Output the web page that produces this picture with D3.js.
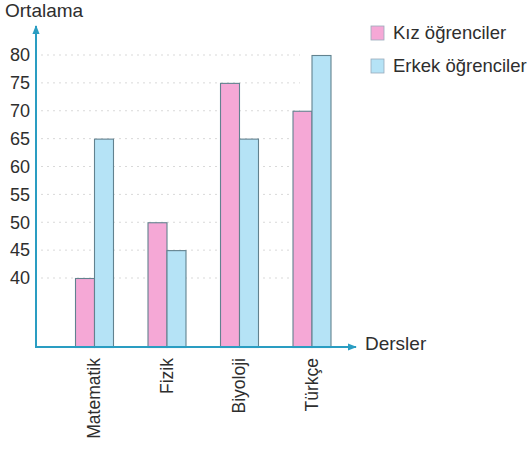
<!DOCTYPE html>
<html>
<head>
<meta charset="utf-8">
<script src="https://cdn.jsdelivr.net/npm/d3@7"></script>
<style>
  html, body { margin: 0; padding: 0; background: #fff; }
  svg { display: block; font-family: "Liberation Sans", Arial, sans-serif; }
</style>
</head>
<body>
<svg id="chart" width="532" height="459"></svg>
<script>
// Ders ortalamaları (kız / erkek öğrenciler)
const categories = ["Matematik", "Fizik", "Biyoloji", "Türkçe"];
const seriesNames = ["Kız öğrenciler", "Erkek öğrenciler"];
const kizValues = [40, 50, 75, 70];
const erkekValues = [65, 45, 65, 80];
const yTicks = [40, 45, 50, 55, 60, 65, 70, 75, 80];
const colors = ["#f5a8d6", "#b5e3f6"];

const svg = d3.select("#chart");
const axisColor = "#2a9dc2";
const textColor = "#2e2e2e";
const baseY = 347, left = 36;

// Eksen kırık: 40'ın altı sıkıştırılmış, çubuklar taban çizgisinden başlar
const y = d3.scaleLinear().domain([40, 80]).range([278, 55]);
const x = d3.scaleBand().domain(categories).range([57.75, 347.75])
  .paddingInner(0.476).paddingOuter(0.238);
const xSub = d3.scaleBand().domain(seriesNames).range([0, x.bandwidth()]);

const rows = categories.map((c, i) => ({ cat: c, vals: [kizValues[i], erkekValues[i]] }));

// Noktalı yatay kılavuz çizgileri
svg.append("g").selectAll("line").data(yTicks).join("line")
  .attr("x1", left + 5).attr("x2", 300)
  .attr("y1", d => y(d)).attr("y2", d => y(d))
  .attr("stroke", "#d9d9d9").attr("stroke-width", 1)
  .attr("stroke-dasharray", "2,4");

// Çubuklar
const groups = svg.append("g").selectAll("g").data(rows).join("g")
  .attr("transform", d => `translate(${x(d.cat)},0)`);
groups.selectAll("rect").data(d => d.vals.map((v, j) => ({ v, s: seriesNames[j], j })))
  .join("rect")
  .attr("x", d => xSub(d.s) + 0.5)
  .attr("width", xSub.bandwidth())
  .attr("y", d => y(d.v) + 0.5)
  .attr("height", d => baseY - y(d.v))
  .attr("fill", d => colors[d.j])
  .attr("stroke", "#62828f").attr("stroke-width", 1.1);

// Y ekseni etiketleri
const yAxis = d3.axisLeft(y).tickValues(yTicks).tickSize(0).tickPadding(6);
const gy = svg.append("g").attr("transform", `translate(${left},0)`).call(yAxis);
gy.select(".domain").remove();
gy.selectAll("text").attr("font-size", 18).attr("fill", textColor)
  .attr("font-family", "Liberation Sans, Arial, sans-serif");

// X ekseni etiketleri (dikey)
const xAxis = d3.axisBottom(x).tickSize(0).tickPadding(0);
const gx = svg.append("g").attr("transform", `translate(0,${baseY})`).call(xAxis);
gx.select(".domain").remove();
gx.selectAll("text")
  .attr("font-size", 17.5).attr("fill", textColor)
  .attr("font-family", "Liberation Sans, Arial, sans-serif")
  .attr("text-anchor", "end")
  .attr("dy", "0.35em")
  .attr("transform", "translate(0,11) rotate(-90)")
  .attr("x", 0).attr("y", 0);

// Eksen çizgileri ve oklar
const defs = svg.append("defs");
defs.append("marker").attr("id", "arrow").attr("viewBox", "0 0 10 10")
  .attr("refX", 9).attr("refY", 5).attr("markerWidth", 4.5).attr("markerHeight", 4.5)
  .attr("orient", "auto").attr("markerUnits", "strokeWidth")
  .append("path").attr("d", "M0,1 L10,5 L0,9 Z").attr("fill", axisColor);

svg.append("line").attr("x1", left).attr("y1", baseY).attr("x2", left).attr("y2", 26)
  .attr("stroke", axisColor).attr("stroke-width", 2).attr("marker-end", "url(#arrow)");
svg.append("line").attr("x1", left - 1).attr("y1", baseY).attr("x2", 356).attr("y2", baseY)
  .attr("stroke", axisColor).attr("stroke-width", 2).attr("marker-end", "url(#arrow)");

// Eksen başlıkları
svg.append("text").attr("x", 5).attr("y", 17).text("Ortalama")
  .attr("font-size", 19).attr("fill", textColor);
svg.append("text").attr("x", 365).attr("y", 350).text("Dersler")
  .attr("font-size", 19).attr("fill", textColor);

// Lejant
const legend = svg.append("g").selectAll("g").data(seriesNames).join("g")
  .attr("transform", (d, i) => `translate(371,${26 + i * 33})`);
legend.append("rect").attr("width", 13).attr("height", 14)
  .attr("fill", (d, i) => colors[i]).attr("stroke", "#9ab").attr("stroke-width", 0.8);
legend.append("text").attr("x", 22).attr("y", 13).text(d => d)
  .attr("font-size", 18.5).attr("fill", textColor);
</script>
</body>
</html>
